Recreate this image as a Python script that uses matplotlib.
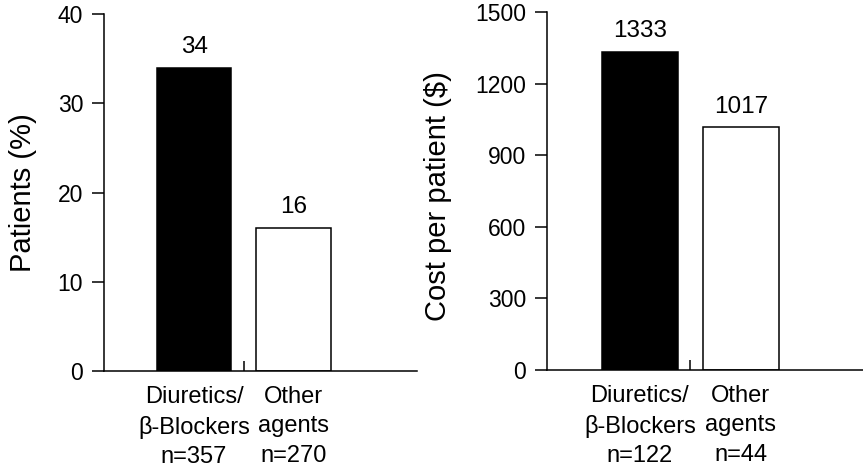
import matplotlib
matplotlib.use("Agg")
import matplotlib.pyplot as plt
from matplotlib.ticker import FixedLocator

plt.rcParams["font.family"] = ["Liberation Sans", "DejaVu Sans"]

# data
groups = ["Diuretics/\nβ-Blockers", "Other\nagents"]
pct_patients = [34, 16]
n_pct = [357, 270]
cost_per_patient = [1333, 1017]
n_cost = [122, 44]
bar_colors = ["black", "white"]

fig = plt.figure(figsize=(8.63, 4.68), dpi=100)
ax1 = fig.add_axes([104 / 863, 1 - 371 / 468, 313 / 863, 357 / 468])
ax2 = fig.add_axes([547 / 863, 1 - 370 / 468, 316 / 863, 358 / 468])


def draw_panel(ax, values, ns, ylim, yticks, ylabel, xlim, label_xy):
    x = list(range(len(values)))
    bars = ax.bar(x, values, width=0.75, color=bar_colors,
                  edgecolor="black", linewidth=1.1)
    for b, v in zip(bars, values):
        ax.annotate(str(v), (b.get_x() + b.get_width() / 2, v),
                    xytext=(0, 7), textcoords="offset points",
                    ha="center", va="bottom", fontsize=17.5)
    ax.set_xlim(*xlim)
    ax.set_ylim(*ylim)
    ax.set_yticks(yticks)
    ax.set_xticks(x)
    ax.set_xticklabels([f"{g}\nn={n}" for g, n in zip(groups, ns)],
                       fontsize=17, linespacing=1.42)
    ax.xaxis.set_minor_locator(FixedLocator([0.5]))
    ax.tick_params(axis="x", which="major", length=0, pad=11)
    ax.tick_params(axis="x", which="minor", direction="in", length=7, width=1.1)
    ax.tick_params(axis="y", direction="out", length=9, width=1.1,
                   pad=6, labelsize=16.5)
    for side in ("top", "right"):
        ax.spines[side].set_visible(False)
    for side in ("left", "bottom"):
        ax.spines[side].set_linewidth(1.1)
    ax.set_ylabel(ylabel, fontsize=21)
    ax.yaxis.set_label_coords(*label_xy)


draw_panel(ax1, pct_patients, n_pct, (0, 40), [0, 10, 20, 30, 40],
           "Patients (%)", (-0.905, 2.24), (-0.215, 0.5))
draw_panel(ax2, cost_per_patient, n_cost, (0, 1500),
           [0, 300, 600, 900, 1200, 1500],
           "Cost per patient ($)", (-0.92, 2.21), (-0.30, 0.486))

fig.savefig("out.png", dpi=100)
